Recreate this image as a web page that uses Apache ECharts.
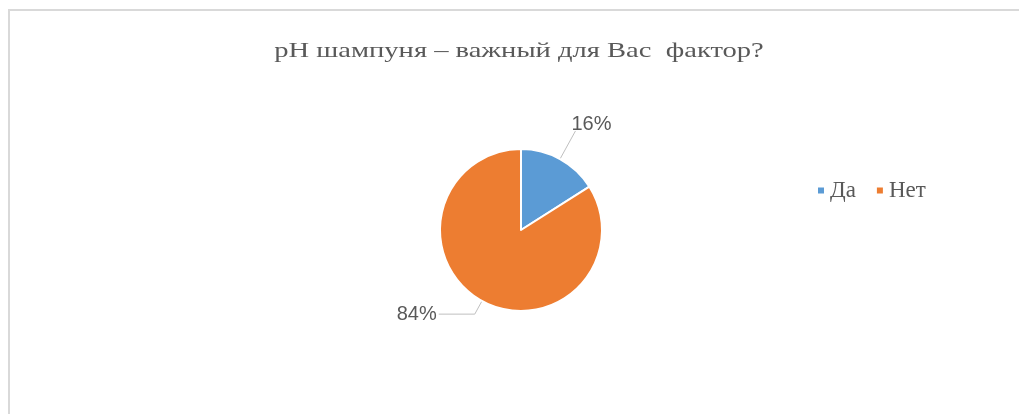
<!DOCTYPE html>
<html>
<head>
<meta charset="utf-8">
<script src="https://cdn.jsdelivr.net/npm/echarts@6/dist/echarts.min.js"></script>
<style>
html,body{margin:0;padding:0;background:#fff;}
#chart{width:1019px;height:414px;}
</style>
</head>
<body>
<div id="chart"></div>
<script>
const titleText = 'pH шампуня – важный для Вас  фактор?';
const categories = ['Да', 'Нет'];
const values = [16, 84];
const colors = ['#5b9bd5', '#ed7d31'];

const chart = echarts.init(document.getElementById('chart'));
chart.setOption({
  animation: false,
  backgroundColor: '#fff',
  graphic: [{
    type: 'rect',
    shape: {x: 9, y: 10, width: 1100, height: 500},
    style: {fill: 'none', stroke: '#d9d9d9', lineWidth: 2},
    silent: true
  }, {
    type: 'text',
    x: 519,
    y: 51,
    scaleX: 1.36,
    silent: true,
    style: {
      text: titleText,
      fontFamily: 'Liberation Serif',
      fontSize: 21,
      fill: '#595959',
      align: 'center',
      verticalAlign: 'middle'
    }
  }],
  legend: {
    data: categories,
    left: 811,
    top: 174,
    itemWidth: 8,
    itemHeight: 8,
    itemGap: 19,
    icon: 'rect',
    textStyle: {fontFamily: 'Liberation Serif', fontSize: 23, color: '#595959'}
  },
  series: [{
    type: 'pie',
    center: [521, 230],
    radius: 81,
    startAngle: 90,
    clockwise: true,
    data: categories.map((c, i) => ({
      name: c,
      value: values[i],
      itemStyle: {color: colors[i]},
      labelLine: i === 0 ? {length: 32, length2: 0} : {length: 15, length2: 36}
    })),
    itemStyle: {borderColor: '#fff', borderWidth: 2},
    label: {
      formatter: '{d}%',
      fontFamily: 'Liberation Sans',
      fontSize: 20,
      color: '#595959',
      distanceToLabelLine: 2
    },
    labelLine: {
      lineStyle: {color: '#bfbfbf', width: 1}
    },
    labelLayout: function (p) {
      return p.dataIndex === 0 ? {dx: -6, dy: -6} : {dy: 0};
    },
    emphasis: {disabled: true}
  }]
});
</script>
</body>
</html>
